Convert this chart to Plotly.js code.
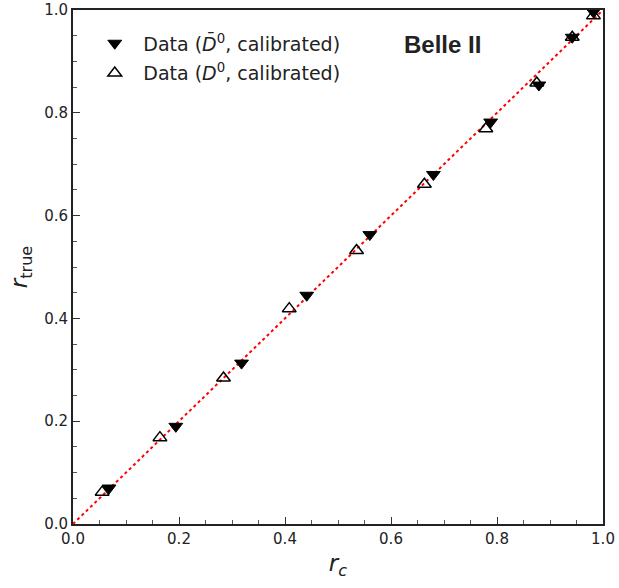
<!DOCTYPE html>
<html>
<head>
<meta charset="utf-8">
<script src="https://cdn.plot.ly/plotly-3.0.1.min.js"></script>
<style>html,body{margin:0;padding:0;background:#fff;}#chart{width:619px;height:588px;}</style>
</head>
<body>
<div id="chart"></div>
<script>
// D0bar (filled, downward triangles)
const rcD0bar   = [0.068, 0.194, 0.318, 0.441, 0.560, 0.680, 0.788, 0.879, 0.942, 0.982];
const rtrueD0bar = [0.070, 0.190, 0.313, 0.445, 0.563, 0.680, 0.782, 0.854, 0.947, 0.996];
// D0 (open, upward triangles)
const rcD0   = [0.055, 0.164, 0.284, 0.408, 0.535, 0.663, 0.779, 0.875, 0.942, 0.982];
const rtrueD0 = [0.062, 0.168, 0.284, 0.419, 0.532, 0.661, 0.769, 0.858, 0.947, 0.989];
// reference diagonal
const lineX = [0, 1];
const lineY = [0, 1];
const tickVals = [0, 0.2, 0.4, 0.6, 0.8, 1.0];
const tickText = ['0.0', '0.2', '0.4', '0.6', '0.8', '1.0'];

const font = "DejaVu Sans, sans-serif";

const traces = [
  {
    x: lineX, y: lineY, mode: 'lines', showlegend: false,
    line: {color: 'red', width: 2, dash: 'dot'}, hoverinfo: 'skip'
  },
  {
    x: rcD0bar, y: rtrueD0bar, mode: 'markers', legendgroup: 'a',
    name: 'Data (<i>D\u0304</i><sup>0</sup>, calibrated)',
    marker: {symbol: 'triangle-down', size: 12, color: 'black', line: {color: 'black', width: 1}}
  },
  {
    x: rcD0, y: rtrueD0, mode: 'markers', legendgroup: 'b',
    name: 'Data (<i>D</i><sup>0</sup>, calibrated)',
    marker: {symbol: 'triangle-up-open', size: 12, color: 'black', line: {color: 'black', width: 1.5}}
  }
];

const axisCommon = {
  range: [0, 1],
  tickvals: tickVals, ticktext: tickText,
  ticks: 'inside', ticklen: 7, tickwidth: 1, tickcolor: '#333',
  minor: {dtick: 0.05, ticks: 'inside', ticklen: 4, tickwidth: 1, tickcolor: '#555', showgrid: false},
  showline: true, linecolor: '#222', linewidth: 2, mirror: true,
  showgrid: false, zeroline: false,
  tickfont: {family: font, size: 15, color: '#222'}
};

const layout = {
  width: 619, height: 588,
  margin: {l: 73, r: 16, t: 10, b: 64},
  paper_bgcolor: 'white', plot_bgcolor: 'white',
  font: {family: font, color: '#222'},
  xaxis: Object.assign({}, axisCommon, {
    title: {text: '<i>r<sub>c</sub></i>', font: {family: font, size: 23, color: '#222'}, standoff: 8}
  }),
  yaxis: Object.assign({}, axisCommon, {
    title: {text: '<i>r</i><sub>true</sub>', font: {family: font, size: 23, color: '#222'}, standoff: 10}
  }),
  legend: {
    x: 0.025, y: 0.972, xanchor: 'left', yanchor: 'top',
    bgcolor: 'rgba(0,0,0,0)', borderwidth: 0,
    font: {family: font, size: 19, color: '#222'},
    itemwidth: 47, traceorder: 'grouped', tracegroupgap: 2
  },
  annotations: [{
    x: 0.697, y: 0.932, xref: 'x', yref: 'y', showarrow: false,
    text: '<b>Belle II</b>', font: {family: 'Liberation Sans, Arial, sans-serif', size: 24, color: '#222'}
  }]
};

Plotly.newPlot('chart', traces, layout, {displayModeBar: false, staticPlot: true});
</script>
</body>
</html>
